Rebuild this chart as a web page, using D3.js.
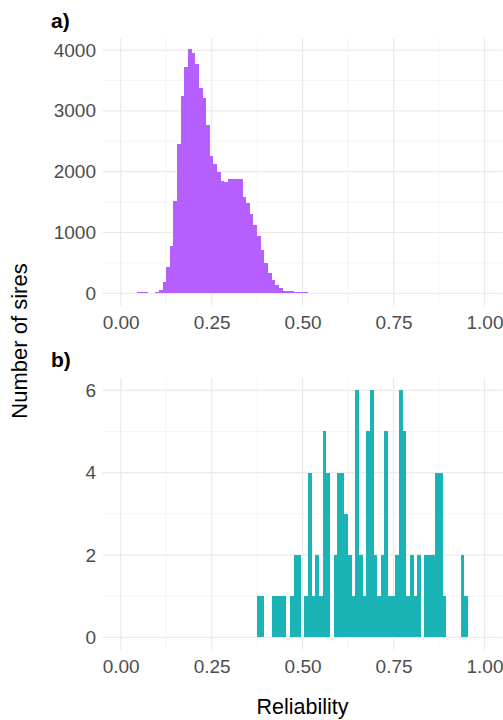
<!DOCTYPE html>
<html><head><meta charset="utf-8">
<script src="https://cdn.jsdelivr.net/npm/d3@7"></script>
<style>body{margin:0;background:#fff}svg text{font-family:"Liberation Sans",Arial,Helvetica,sans-serif}</style>
</head><body><svg id="c" width="503" height="720"></svg>
<script>
// ---------- data ----------
const binWidth = 0.01;
const binCentersA = [0.05,0.06,0.07,0.08,0.09,0.10,0.11,0.12,0.13,0.14,0.15,0.16,0.17,0.18,0.19,0.20,0.21,0.22,0.23,0.24,0.25,0.26,0.27,0.28,0.29,0.30,0.31,0.32,0.33,0.34,0.35,0.36,0.37,0.38,0.39,0.40,0.41,0.42,0.43,0.44,0.45,0.46,0.47,0.48,0.49,0.50,0.51,0.52,0.53,0.54,0.55,0.56,0.57,0.58,0.59,0.60,0.61,0.62,0.63];
const countsA = [15,20,18,8,10,22,55,190,440,780,1520,2460,3250,3720,4010,3950,3770,3370,3210,2770,2260,2120,1990,1845,1835,1875,1875,1875,1875,1590,1480,1300,1130,950,720,500,330,220,140,80,45,35,30,18,16,15,14,12,12,6,5,4,4,3,3,10,3,2,1];
const binCentersB = [0.38,0.39,0.40,0.41,0.42,0.43,0.44,0.45,0.46,0.47,0.48,0.49,0.50,0.51,0.52,0.53,0.54,0.55,0.56,0.57,0.58,0.59,0.60,0.61,0.62,0.63,0.64,0.65,0.66,0.67,0.68,0.69,0.70,0.71,0.72,0.73,0.74,0.75,0.76,0.77,0.78,0.79,0.80,0.81,0.82,0.83,0.84,0.85,0.86,0.87,0.88,0.89,0.90,0.91,0.92,0.93,0.94,0.95];
const countsB = [1,1,0,0,1,1,1,1,0,1,2,2,0,1,4,1,2,1,5,4,0,2,4,4,3,2,1,6,2,1,5,6,2,1,2,5,1,1,2,6,5,1,2,1,2,0,2,2,2,4,4,1,0,0,0,0,2,1];
const xTicks = [0, 0.25, 0.5, 0.75, 1];
const xTickLabels = ["0.00","0.25","0.50","0.75","1.00"];
const xMinor = [0.125, 0.375, 0.625, 0.875];
const yTicksA = [0, 1000, 2000, 3000, 4000];
const yMinorA = [500, 1500, 2500, 3500];
const yTicksB = [0, 2, 4, 6];
const yMinorB = [1, 3, 5];
const tags = ["a)", "b)"];
const xTitle = "Reliability";
const yTitle = "Number of sires";
const colorA = "#B55FFF";
const colorB = "#1AB3B6";

// ---------- layout ----------
const svg = d3.select("#c");
const x = d3.scaleLinear().domain([-0.05, 1.05]).range([102.5, 502.7]);

function panel(cfg) {
  const y = d3.scaleLinear().domain(cfg.yDomain).range(cfg.yRange);
  const top = cfg.top, bottom = cfg.bottom;
  const g = svg.append("g");
  const grid = g.append("g");
  // minor grid
  grid.selectAll("line.hm").data(cfg.yMinor).join("line")
    .attr("x1", x.range()[0]).attr("x2", x.range()[1])
    .attr("y1", d => y(d)).attr("y2", d => y(d))
    .attr("stroke", "#ededed").attr("stroke-width", 0.6);
  grid.selectAll("line.vm").data(xMinor).join("line")
    .attr("y1", top).attr("y2", bottom)
    .attr("x1", d => x(d)).attr("x2", d => x(d))
    .attr("stroke", "#ededed").attr("stroke-width", 0.6);
  // major grid
  grid.selectAll("line.hM").data(cfg.yTicks).enter().append("line")
    .attr("x1", x.range()[0]).attr("x2", x.range()[1])
    .attr("y1", d => y(d)).attr("y2", d => y(d))
    .attr("stroke", "#ebebeb").attr("stroke-width", 1.2);
  grid.selectAll("line.vM").data(xTicks).enter().append("line")
    .attr("y1", top).attr("y2", bottom)
    .attr("x1", d => x(d)).attr("x2", d => x(d))
    .attr("stroke", "#ebebeb").attr("stroke-width", 1.2);

  // bars
  const data = cfg.centers.map((c, i) => ({c, n: cfg.counts[i]})).filter(d => d.n > 0);
  g.append("g").attr("shape-rendering", "crispEdges")
    .selectAll("rect").data(data).join("rect")
    .attr("x", d => x(d.c - binWidth / 2))
    .attr("width", d => x(d.c + binWidth / 2) - x(d.c - binWidth / 2))
    .attr("y", d => y(d.n))
    .attr("height", d => y(0) - y(d.n))
    .attr("fill", cfg.color);

  // axes (text only, ggplot minimal)
  const ax = d3.axisLeft(y).tickValues(cfg.yTicks).tickSize(0).tickPadding(6.5).tickFormat(d3.format("d"));
  const ga = g.append("g").attr("transform", `translate(${x.range()[0]},0)`).call(ax);
  ga.select(".domain").remove();
  ga.selectAll("text").attr("font-size", 19).attr("fill", "#4d4d4d")
    .attr("font-family", '"Liberation Sans",Arial,sans-serif');

  const bx = d3.axisBottom(x).tickValues(xTicks).tickSize(0).tickPadding(0)
    .tickFormat((d, i) => xTickLabels[i]);
  const gb = g.append("g").attr("transform", `translate(0,${bottom})`).call(bx);
  gb.select(".domain").remove();
  gb.selectAll("text").attr("font-size", 19).attr("fill", "#4d4d4d")
    .attr("font-family", '"Liberation Sans",Arial,sans-serif')
    .attr("dy", null).attr("y", 23.2);

  // tag
  g.append("text").attr("x", 51).attr("y", cfg.tagY).text(cfg.tag)
    .attr("font-size", 21).attr("font-weight", "bold").attr("fill", "#000");
}

panel({
  centers: binCentersA, counts: countsA, color: colorA,
  yDomain: [0, 4000], yRange: [293.3, 50.1],
  yTicks: yTicksA, yMinor: yMinorA,
  top: 37.9, bottom: 305.5, tag: tags[0], tagY: 28
});
panel({
  centers: binCentersB, counts: countsB, color: colorB,
  yDomain: [0, 6], yRange: [637.3, 390.3],
  yTicks: yTicksB, yMinor: yMinorB,
  top: 377.9, bottom: 649.6, tag: tags[1], tagY: 367
});

// axis titles
svg.append("text").attr("x", 302.6).attr("y", 714).attr("text-anchor", "middle")
  .attr("font-size", 21.5).attr("fill", "#000").text(xTitle);
svg.append("text").attr("transform", "translate(26.5,341) rotate(-90)")
  .attr("text-anchor", "middle").attr("font-size", 22).attr("fill", "#000").text(yTitle);
</script></body></html>
